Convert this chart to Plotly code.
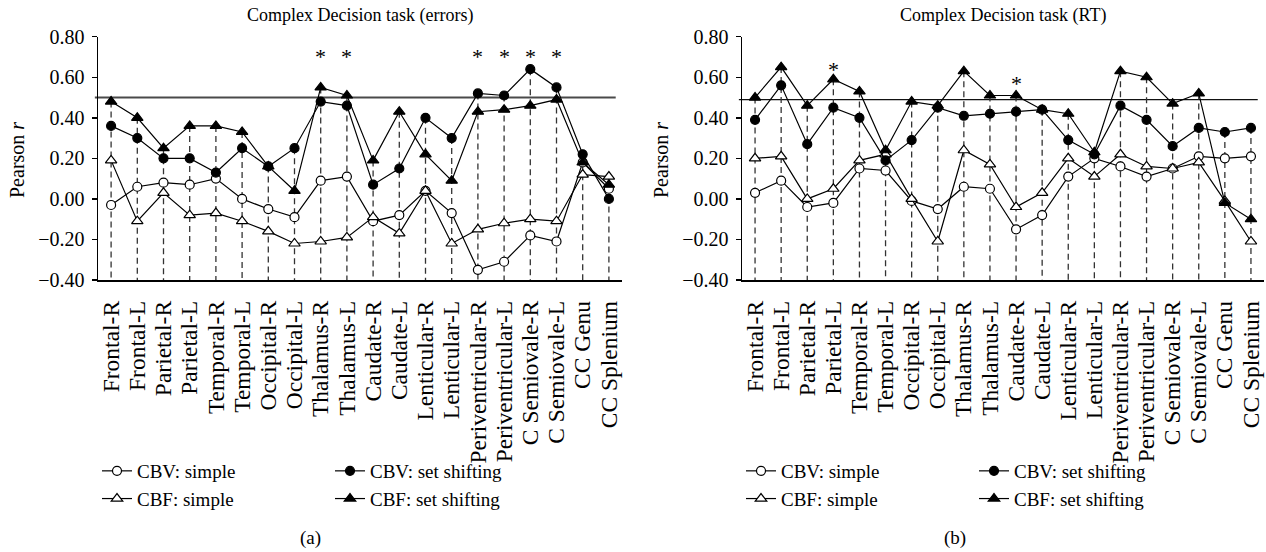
import plotly.graph_objects as go

# ---------------- data ----------------
regions = ["Frontal-R", "Frontal-L", "Parietal-R", "Parietal-L", "Temporal-R", "Temporal-L",
           "Occipital-R", "Occipital-L", "Thalamus-R", "Thalamus-L", "Caudate-R", "Caudate-L",
           "Lenticular-R", "Lenticular-L", "Periventricular-R", "Periventricular-L",
           "C Semiovale-R", "C Semiovale-L", "CC Genu", "CC Splenium"]

# (a) Complex Decision task (errors)
err_cbv_simple = [-0.03, 0.06, 0.08, 0.07, 0.10, 0.00, -0.05, -0.09, 0.09, 0.11,
                  -0.11, -0.08, 0.04, -0.07, -0.35, -0.31, -0.18, -0.21, 0.18, 0.05]
err_cbf_simple = [0.19, -0.11, 0.03, -0.08, -0.07, -0.11, -0.16, -0.22, -0.21, -0.19,
                  -0.09, -0.17, 0.04, -0.22, -0.15, -0.12, -0.10, -0.11, 0.12, 0.11]
err_cbv_set = [0.36, 0.30, 0.20, 0.20, 0.13, 0.25, 0.16, 0.25, 0.48, 0.46,
               0.07, 0.15, 0.40, 0.30, 0.52, 0.51, 0.64, 0.55, 0.22, 0.00]
err_cbf_set = [0.48, 0.40, 0.25, 0.36, 0.36, 0.33, 0.16, 0.04, 0.55, 0.51,
               0.19, 0.43, 0.22, 0.09, 0.43, 0.44, 0.46, 0.49, 0.18, 0.07]
err_threshold = 0.50
err_star_regions = ["Thalamus-R", "Thalamus-L", "Periventricular-R", "Periventricular-L",
                    "C Semiovale-R", "C Semiovale-L"]
err_star_y = [0.70, 0.70, 0.70, 0.70, 0.70, 0.70]

# (b) Complex Decision task (RT)
rt_cbv_simple = [0.03, 0.09, -0.04, -0.02, 0.15, 0.14, -0.01, -0.05, 0.06, 0.05,
                 -0.15, -0.08, 0.11, 0.20, 0.16, 0.11, 0.15, 0.21, 0.20, 0.21]
rt_cbf_simple = [0.20, 0.21, 0.00, 0.05, 0.19, 0.22, 0.00, -0.21, 0.24, 0.17,
                 -0.04, 0.03, 0.20, 0.11, 0.22, 0.16, 0.15, 0.18, -0.01, -0.21]
rt_cbv_set = [0.39, 0.56, 0.27, 0.45, 0.40, 0.19, 0.29, 0.45, 0.41, 0.42,
              0.43, 0.44, 0.29, 0.22, 0.46, 0.39, 0.26, 0.35, 0.33, 0.35]
rt_cbf_set = [0.50, 0.65, 0.46, 0.59, 0.53, 0.24, 0.48, 0.46, 0.63, 0.51,
              0.51, 0.44, 0.42, 0.23, 0.63, 0.60, 0.47, 0.52, -0.02, -0.10]
rt_threshold = 0.49
rt_star_regions = ["Parietal-L", "Caudate-R"]
rt_star_y = [0.64, 0.57]

y_ticks = [-0.40, -0.20, 0.00, 0.20, 0.40, 0.60, 0.80]

# ---------------- styling ----------------
FONT = "Liberation Serif, Times New Roman, serif"
W, H = 1266, 552
LEFT_DOM = [98 / W, 622 / W]
RIGHT_DOM = [742 / W, 1264 / W]
Y_DOM = [1 - 280 / H, 1 - 36.7 / H]

series_style = [
    ("CBV: simple", "circle", "white", 9),
    ("CBF: simple", "triangle-up", "white", 10),
    ("CBV: set shifting", "circle", "black", 9),
    ("CBF: set shifting", "triangle-up", "black", 10),
]

fig = go.Figure()


def add_panel(xa, ya, series, legends):
    # dashed drop lines from the highest point of each region down to the axis
    xs, ys = [], []
    for i, cat in enumerate(regions):
        top = max(s[i] for s in series)
        xs += [cat, cat, None]
        ys += [top, y_ticks[0], None]
    fig.add_trace(go.Scatter(x=xs, y=ys, mode="lines", xaxis=xa, yaxis=ya,
                             line=dict(color="#333333", width=1.3, dash="6px,4px"),
                             showlegend=False, hoverinfo="skip"))
    for (name, sym, fill, size), vals, lg in zip(series_style, series, legends):
        fig.add_trace(go.Scatter(
            x=regions, y=vals, mode="lines+markers", name=name,
            xaxis=xa, yaxis=ya, legend=lg, legendgroup=name,
            line=dict(color="black", width=1.2),
            marker=dict(symbol=sym, size=size, color=fill,
                        line=dict(color="black", width=1.2)),
        ))


add_panel("x", "y", [err_cbv_simple, err_cbf_simple, err_cbv_set, err_cbf_set],
          ["legend", "legend", "legend2", "legend2"])
add_panel("x2", "y2", [rt_cbv_simple, rt_cbf_simple, rt_cbv_set, rt_cbf_set],
          ["legend3", "legend3", "legend4", "legend4"])

xaxis_common = dict(type="category", categoryorder="array", categoryarray=regions,
                    tickmode="array", tickvals=regions, ticktext=regions,
                    range=[-0.5, 19.5], showline=True, linecolor="black", linewidth=1.5,
                    ticks="", tickangle=-90, showgrid=False, zeroline=False,
                    tickfont=dict(family=FONT, size=23.5, color="black"),
                    ticklabelstandoff=10, automargin=False)
yaxis_common = dict(range=[-0.4, 0.8], tickvals=y_ticks, tickformat=".2f",
                    showline=True, linecolor="black", linewidth=1.5,
                    ticks="outside", ticklen=5, tickcolor="black", tickwidth=1.5,
                    showgrid=False, zeroline=False,
                    tickfont=dict(family=FONT, size=20, color="black"),
                    ticklabelstandoff=3, automargin=False,
                    domain=Y_DOM)

legend_common = dict(orientation="v", bgcolor="rgba(0,0,0,0)", traceorder="grouped",
                     tracegroupgap=0, yanchor="top", xanchor="left",
                     font=dict(family=FONT, size=19, color="black"))
leg_top = 1 - 452 / H

fig.update_layout(
    width=W, height=H,
    margin=dict(l=0, r=0, t=0, b=0, autoexpand=False),
    paper_bgcolor="white", plot_bgcolor="white",
    font=dict(family=FONT, color="black"),
    xaxis=dict(domain=LEFT_DOM, anchor="y", **xaxis_common),
    yaxis=dict(anchor="x", **yaxis_common),
    xaxis2=dict(domain=RIGHT_DOM, anchor="y2", **xaxis_common),
    yaxis2=dict(anchor="x2", **yaxis_common),
    legend=dict(x=97 / W, y=leg_top, **legend_common),
    legend2=dict(x=330 / W, y=leg_top, **legend_common),
    legend3=dict(x=741 / W, y=leg_top, **legend_common),
    legend4=dict(x=974 / W, y=leg_top, **legend_common),
    hovermode=False,
)

# threshold lines
for xa, ya, thr, col, wd in [("x", "y", err_threshold, "#4a4a4a", 2.0),
                             ("x2", "y2", rt_threshold, "#111111", 1.3)]:
    fig.add_shape(type="line", xref=f"{xa} domain", yref=ya, x0=-0.006, x1=0.988,
                  y0=thr, y1=thr, line=dict(color=col, width=wd), layer="below")

# significance asterisks
for xa, ya, cats, ys in [("x", "y", err_star_regions, err_star_y),
                         ("x2", "y2", rt_star_regions, rt_star_y)]:
    for c, yv in zip(cats, ys):
        fig.add_annotation(x=c, y=yv, xref=xa, yref=ya, text="*", showarrow=False,
                           xanchor="center", yanchor="middle",
                           font=dict(family=FONT, size=22, color="black"))

# titles
for cx, title in [((LEFT_DOM[0] + LEFT_DOM[1]) / 2, "Complex Decision task (errors)"),
                  ((RIGHT_DOM[0] + RIGHT_DOM[1]) / 2, "Complex Decision task (RT)")]:
    fig.add_annotation(x=cx, y=1 - 15 / H, xref="paper", yref="paper", text=title,
                       showarrow=False, xanchor="center", yanchor="middle",
                       font=dict(family=FONT, size=18, color="black"))
# y-axis titles
for px in [17, 661]:
    fig.add_annotation(x=px / W, y=1 - 160 / H, xref="paper", yref="paper",
                       text="Pearson <i>r</i>", textangle=-90, showarrow=False,
                       xanchor="center", yanchor="middle",
                       font=dict(family=FONT, size=20, color="black"))
# panel labels
for px, lab in [(310, "(a)"), (955, "(b)")]:
    fig.add_annotation(x=px / W, y=1 - 538 / H, xref="paper", yref="paper", text=lab,
                       showarrow=False, xanchor="center", yanchor="middle",
                       font=dict(family=FONT, size=19, color="black"))

fig.write_html("out.html",
               config={"displayModeBar": False, "staticPlot": True},
               post_script="document.body.style.margin='0';"
                           "document.body.style.overflow='hidden';")
